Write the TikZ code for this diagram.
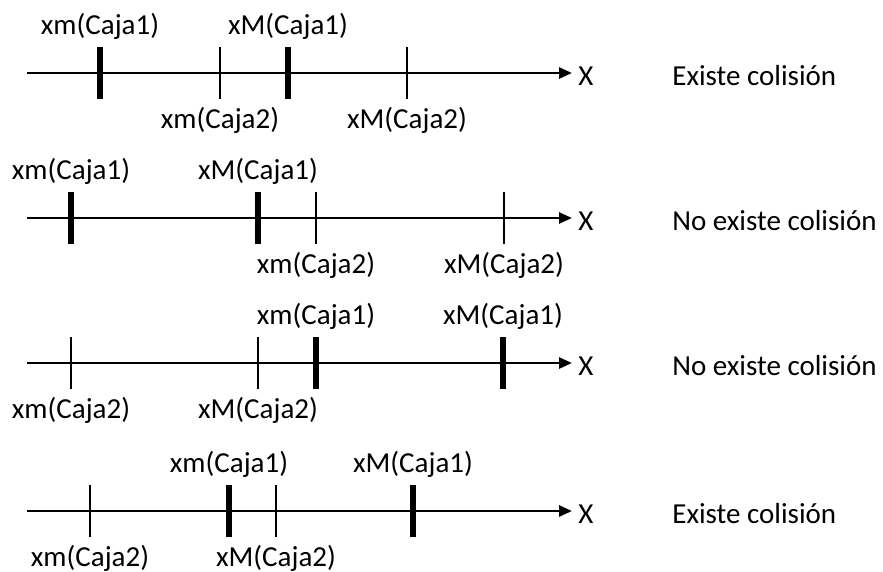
\documentclass[tikz,border=0pt]{standalone}
\usepackage{fontspec}
\setmainfont{Carlito}
\usetikzlibrary{arrows.meta}
\tikzset{eje/.style={line width=1.5pt, -{Triangle[length=0.26cm, width=0.22cm]}}}
\tikzset{gruesa/.style={line width=3.4pt}, fina/.style={line width=1.1pt}}
\tikzset{etq/.style={inner sep=0pt, anchor=base}}
\newcommand{\recta}[3]{\coordinate (#1i) at (0.54,#2); \coordinate (#1f) at (11.44,#2);
  \draw[eje] (#1i) -- (#1f);
  \node[inner sep=0pt, anchor=base west] (#1x) at (11.56,#2-0.24) {X};
  \node[inner sep=0pt, anchor=base west] (#1r) at (13.44,#2-0.24) {#3};}
\newcommand{\arriba}[5]{\draw[#4] (#2,#3-0.52) coordinate (#1b) -- (#2,#3+0.52) coordinate (#1a);
  \node[etq] (#1t) at (#2,#3+0.78) {#5};}
\newcommand{\abajo}[5]{\draw[#4] (#2,#3+0.52) coordinate (#1a) -- (#2,#3-0.52) coordinate (#1b);
  \node[etq] (#1t) at (#2,#3-1.1) {#5};}

\begin{document}
\begin{tikzpicture}[font=\fontsize{16.5}{19}\selectfont]
\useasboundingbox (0,0) rectangle (17.66,-11.42);
% Caso 1: se solapan
\recta{r1}{-1.46}{Existe colisión}
\arriba{p1}{2.00}{-1.46}{gruesa}{xm(Caja1)}
\arriba{q1}{5.76}{-1.46}{gruesa}{xM(Caja1)}
\abajo{s1}{4.40}{-1.46}{fina}{xm(Caja2)}
\abajo{t1}{8.14}{-1.46}{fina}{xM(Caja2)}
% Caso 2: caja 1 a la izquierda
\recta{r2}{-4.36}{No existe colisión}
\arriba{p2}{1.42}{-4.36}{gruesa}{xm(Caja1)}
\arriba{q2}{5.16}{-4.36}{gruesa}{xM(Caja1)}
\abajo{s2}{6.32}{-4.36}{fina}{xm(Caja2)}
\abajo{t2}{10.08}{-4.36}{fina}{xM(Caja2)}
% Caso 3: caja 1 a la derecha
\recta{r3}{-7.26}{No existe colisión}
\arriba{p3}{6.32}{-7.26}{gruesa}{xm(Caja1)}
\arriba{q3}{10.06}{-7.26}{gruesa}{xM(Caja1)}
\abajo{s3}{1.42}{-7.26}{fina}{xm(Caja2)}
\abajo{t3}{5.16}{-7.26}{fina}{xM(Caja2)}
% Caso 4: se solapan
\recta{r4}{-10.22}{Existe colisión}
\arriba{p4}{4.58}{-10.22}{gruesa}{xm(Caja1)}
\arriba{q4}{8.26}{-10.22}{gruesa}{xM(Caja1)}
\abajo{s4}{1.80}{-10.22}{fina}{xm(Caja2)}
\abajo{t4}{5.52}{-10.22}{fina}{xM(Caja2)}
\end{tikzpicture}
\end{document}
